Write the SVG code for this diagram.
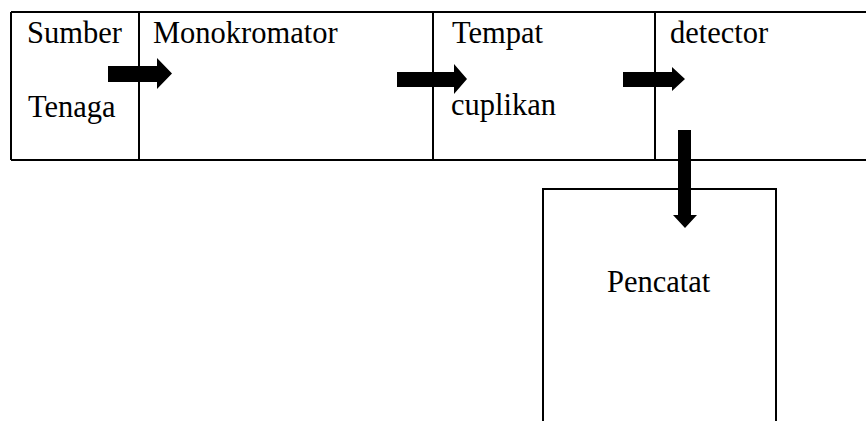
<svg xmlns="http://www.w3.org/2000/svg" width="866" height="421" viewBox="0 0 866 421">
<style>
.box{fill:none;stroke:#000;stroke-width:2}
.t{font-family:"Liberation Serif","Times New Roman",serif;font-size:30.5px;fill:#000}
.arr{fill:#000}
</style>
<rect width="866" height="421" fill="#fff"/>
<g id="sumber">
<path class="box" d="M11,12 H139 M11,12 V160 M11,160 H139 M139,12 V160"/>
<text class="t" x="27" y="43">Sumber</text>
<text class="t" x="28" y="117">Tenaga</text>
</g>
<g id="monokromator">
<path class="box" d="M139,12 H433 M139,160 H433 M433,12 V160"/>
<text class="t" x="153" y="43">Monokromator</text>
</g>
<g id="tempat">
<path class="box" d="M433,12 H655 M433,160 H655 M655,12 V160"/>
<text class="t" x="452" y="43">Tempat</text>
<text class="t" x="451" y="115">cuplikan</text>
</g>
<g id="detector">
<path class="box" d="M655,12 H866 M655,160 H866"/>
<text class="t" x="670" y="43">detector</text>
</g>
<g id="pencatat">
<path class="box" d="M543,421 V189 H776 V421"/>
<text class="t" x="607" y="292">Pencatat</text>
</g>
<g id="connectors">
<polygon class="arr" points="108,66 157,66 157,58 172,73.5 157,89 157,82 108,82"/>
<polygon class="arr" points="397,72 454,72 454,64 467,79 454,94 454,87 397,87"/>
<polygon class="arr" points="623,72 672,72 672,67 685,79 672,91 672,87 623,87"/>
<polygon class="arr" points="678,130 691,130 691,215 697,215 685,228 673,215 678,215"/>
</g>
</svg>
